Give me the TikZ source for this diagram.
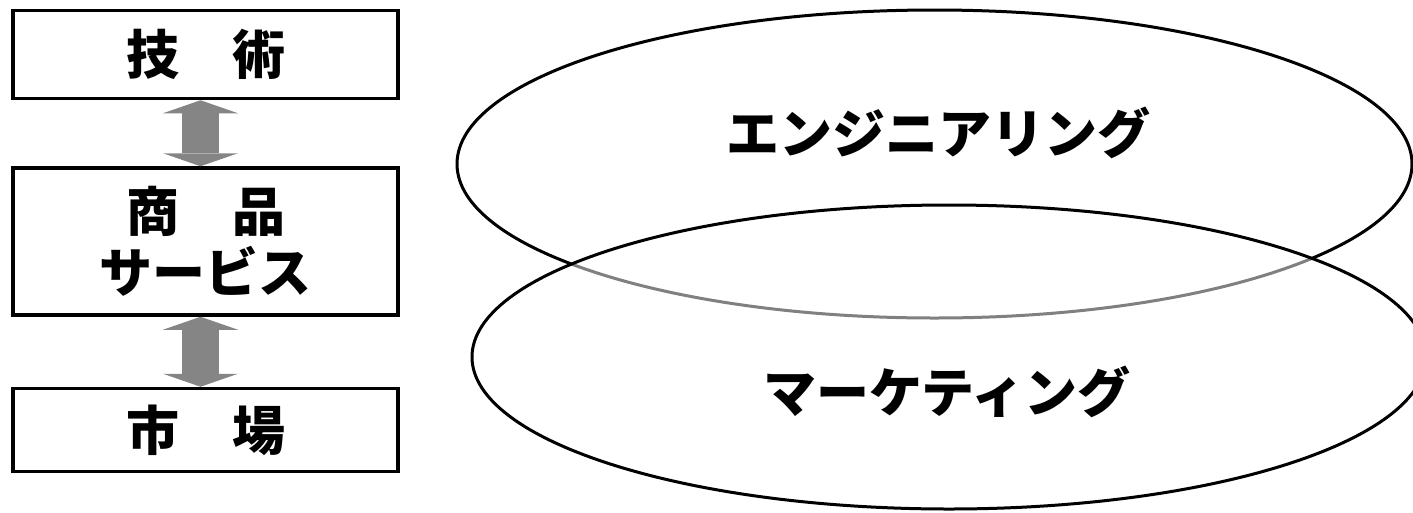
\documentclass[tikz,border=0pt]{standalone}
\usepackage{fontspec}
\setmainfont{Noto Sans CJK JP}
\usetikzlibrary{positioning,arrows.meta}
\definecolor{arrowgrey}{HTML}{858585}

\begin{document}
\begin{tikzpicture}[x=1pt, y=-1pt, node distance=66pt,
    font=\fontsize{53}{61}\selectfont\bfseries,
    box/.style={draw, line width=3.5pt, minimum width=385pt, inner sep=0pt, align=center},
    dualarrow/.style={arrowgrey, line width=37pt,
        {Triangle[width=75pt, length=13pt, line width=0pt]}-{Triangle[width=75pt, length=13pt, line width=0pt]}},
    ring/.style={line width=3pt}]
    \useasboundingbox (0,0) rectangle (1413,512);
    % Nodes
    \node[box, minimum height=88pt] (tech) at (205.5,54.5) {技　術};
    \node[box, minimum height=147pt, below=of tech] (goods) {商　品\\サービス};
    \node[box, minimum height=83pt, below=70pt of goods] (market) {市　場};

    % Arrows
    \draw[dualarrow] ([xshift=-5pt]tech.south) -- ([xshift=-5pt]goods.north);
    \draw[dualarrow] ([xshift=-5pt]goods.south) -- ([xshift=-5pt]market.north);

    % Ellipses
    \draw[ring] (934.5,164) ellipse [x radius=477.5, y radius=154];
    \draw[ring, fill=white, fill opacity=0.5] (949,357) ellipse [x radius=477, y radius=152];
    \node (eng) at (938,133) {エンジニアリング};
    \node (mkt) at (947,392) {マーケティング};
\end{tikzpicture}
\end{document}
